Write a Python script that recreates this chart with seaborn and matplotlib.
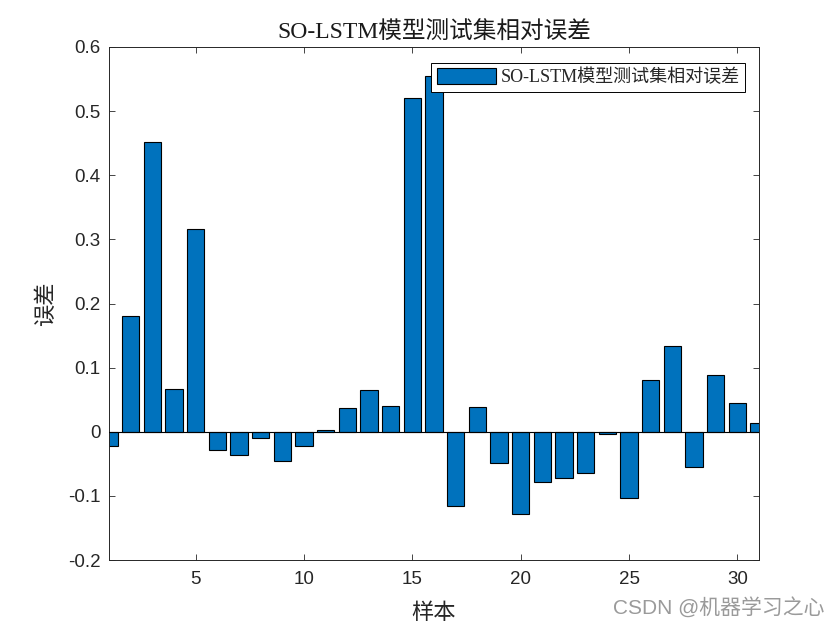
import matplotlib
matplotlib.use("Agg")
import matplotlib.pyplot as plt
import seaborn as sns
import pandas as pd
from matplotlib.ticker import FuncFormatter

# relative error for each test sample
samples = list(range(1, 32))
errors = [
    -0.022, 0.180, 0.452, 0.067, 0.316, -0.028, -0.036, -0.010, -0.046, -0.022,
    0.003, 0.037, 0.065, 0.040, 0.521, 0.555, -0.116, 0.038, -0.048, -0.129,
    -0.078, -0.072, -0.064, -0.004, -0.103, 0.081, 0.134, -0.055, 0.088, 0.045,
    0.014,
]
series_name = "SO-LSTM模型测试集相对误差"
x_ticks = [5, 10, 15, 20, 25, 30]
y_ticks = [-0.2, -0.1, 0, 0.1, 0.2, 0.3, 0.4, 0.5, 0.6]

bar_color = "#0072BD"
serif_cjk = ["Liberation Serif", "Noto Sans CJK SC"]
sans_cjk = ["Liberation Sans", "Noto Sans CJK SC"]

sns.set_theme(style="white")
plt.rcParams["font.family"] = sans_cjk
plt.rcParams["axes.unicode_minus"] = False

df = pd.DataFrame({"sample": samples, "error": errors})

fig = plt.figure(figsize=(8.4, 6.3), dpi=100)
ax = fig.add_axes([0.1298, 0.1111, 0.7738, 0.8143])

sns.barplot(
    data=df, x="sample", y="error", ax=ax,
    native_scale=True, width=0.8, color=bar_color, saturation=1,
    edgecolor="black", linewidth=0.8, label=series_name,
)
ax.axhline(0, color="black", lw=0.8, zorder=3)

ax.set_xlim(1, 31)
ax.set_ylim(-0.2, 0.6)
ax.set_xticks(x_ticks)
ax.set_yticks(y_ticks)
ax.yaxis.set_major_formatter(FuncFormatter(lambda v, p: f"{v:g}" if abs(v) > 1e-9 else "0"))

ax.tick_params(axis="both", which="both", direction="in", length=4, width=0.6,
               top=True, right=True, bottom=True, left=True,
               labelsize=13.5, colors="#262626")
ax.tick_params(axis="x", pad=8)
ax.tick_params(axis="y", pad=6)
for lbl in ax.get_xticklabels() + ax.get_yticklabels():
    lbl.set_color("#262626")
for s in ax.spines.values():
    s.set_visible(True)
    s.set_color("#262626")
    s.set_linewidth(0.7)

ax.set_title(series_name, family=serif_cjk, fontsize=17, color="#1a1a1a", pad=6)
ax.set_xlabel("样本", family=serif_cjk, fontsize=16, color="#262626", labelpad=11)
ax.set_ylabel("误差", family=serif_cjk, fontsize=16, color="#262626", labelpad=8)

leg = ax.legend(loc="upper right", bbox_to_anchor=(0.979, 0.969),
                prop={"family": serif_cjk, "size": 13},
                frameon=True, fancybox=False, framealpha=1,
                handlelength=3.3, handleheight=1.0, borderpad=0.3,
                handletextpad=0.25, borderaxespad=0)
leg.get_frame().set_edgecolor("black")
leg.get_frame().set_linewidth(0.7)

fig.text(0.982, 0.035, "CSDN @机器学习之心", ha="right", va="center",
         fontsize=15, color="#9a9a9a", family=sans_cjk)

fig.savefig("out.png", dpi=100, facecolor="white")
